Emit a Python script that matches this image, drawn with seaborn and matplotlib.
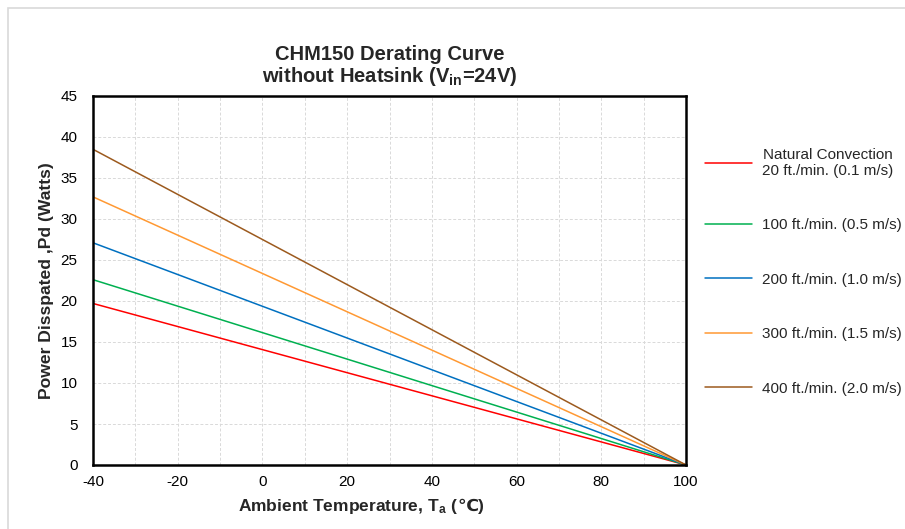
import numpy as np
import pandas as pd
import matplotlib
matplotlib.use('Agg')
import matplotlib.pyplot as plt
import matplotlib.patches as patches
from matplotlib.ticker import MultipleLocator
from matplotlib.offsetbox import TextArea, HPacker, AnchoredOffsetbox
import seaborn as sns

# Derating data (power vs ambient temperature)
temps = [-40, 100]
natural = [19.7, 0.0]
flow_100 = [22.6, 0.0]
flow_200 = [27.1, 0.0]
flow_300 = [32.7, 0.0]
flow_400 = [38.5, 0.0]

series_names = ['Natural Convection\n20 ft./min. (0.1 m/s)',
                '100 ft./min. (0.5 m/s)',
                '200 ft./min. (1.0 m/s)',
                '300 ft./min. (1.5 m/s)',
                '400 ft./min. (2.0 m/s)']
series_vals = [natural, flow_100, flow_200, flow_300, flow_400]
colors = ['#FF0000', '#00B050', '#0070C0', '#FF9933', '#9C5A1E']

# Melt into long form
rows = {'temp': [], 'power': [], 'airflow': []}
for name, vals in zip(series_names, series_vals):
    for t, p in zip(temps, vals):
        rows['temp'].append(t)
        rows['power'].append(p)
        rows['airflow'].append(name)
df = pd.DataFrame(rows)

sns.set_style('white')
fonts = ['Liberation Sans', 'DejaVu Sans']
plt.rcParams['font.family'] = fonts
plt.rcParams['mathtext.default'] = 'regular'
plt.rcParams['axes.unicode_minus'] = False

fig = plt.figure(figsize=(9.05, 5.29), dpi=100)
ax = fig.add_axes([93 / 905, 1 - 465 / 529, (686 - 93) / 905, (465 - 96) / 529])

sns.lineplot(x='temp', y='power', hue='airflow', data=df,
             hue_order=series_names, palette=colors, linewidth=1.1,
             legend=True, ax=ax)

ax.set_xlim(-40, 100)
ax.set_ylim(0, 45)
ax.xaxis.set_major_locator(MultipleLocator(20))
ax.xaxis.set_minor_locator(MultipleLocator(10))
ax.yaxis.set_major_locator(MultipleLocator(5))
ax.grid(which='both', color='#D9D9D9', linestyle=(0, (3, 2)), linewidth=0.7)
ax.set_axisbelow(True)
ax.tick_params(which='both', length=0, labelsize=11, colors='black')
ax.tick_params(axis='x', pad=7)
ax.tick_params(axis='y', pad=11)
for s in ax.spines.values():
    s.set_color('black')
    s.set_linewidth(1.8)

ax.set_xlabel('')
ax.set_ylabel('Power Disspated ,Pd (Watts)', fontsize=12.6,
              fontweight='bold', labelpad=5)
ax.set_title('CHM150 Derating Curve\nwithout Heatsink (V$\\mathregular{_{in}}$=24V)',
             fontsize=14.5, fontweight='bold', pad=10, linespacing=1.05)

# x label in two pieces so the degree-Celsius sign can fall back to DejaVu
lab_props = dict(fontsize=12.5, fontweight='bold', family=fonts)
xlab = HPacker(children=[TextArea('Ambient Temperature, T$\\mathregular{_a}$ (',
                                  textprops=lab_props),
                         TextArea('\u2103)', textprops=lab_props)],
               align='baseline', pad=0, sep=0)
fig.add_artist(AnchoredOffsetbox(loc='center', child=xlab, pad=0, frameon=False,
                                 bbox_to_anchor=(361 / 905, 1 - 507 / 529),
                                 bbox_transform=fig.transFigure))

handles, labels = ax.get_legend_handles_labels()
ax.get_legend().remove()
leg = fig.legend(handles, labels, loc='upper left',
                 bbox_to_anchor=(699 / 905, 1 - 141.5 / 529),
                 frameon=False, fontsize=11, labelspacing=2.65,
                 handlelength=3.1, handletextpad=0.65, borderaxespad=0)
for t in leg.get_texts():
    t.set_multialignment('center')

# Light grey chart border
fig.patches.append(patches.Rectangle((8 / 905, -0.02), 1.0, 1 - 8 / 529 + 0.02,
                                     transform=fig.transFigure, fill=False,
                                     edgecolor='#D9D9D9', linewidth=1.2))

plt.savefig('out.png', dpi=100)
